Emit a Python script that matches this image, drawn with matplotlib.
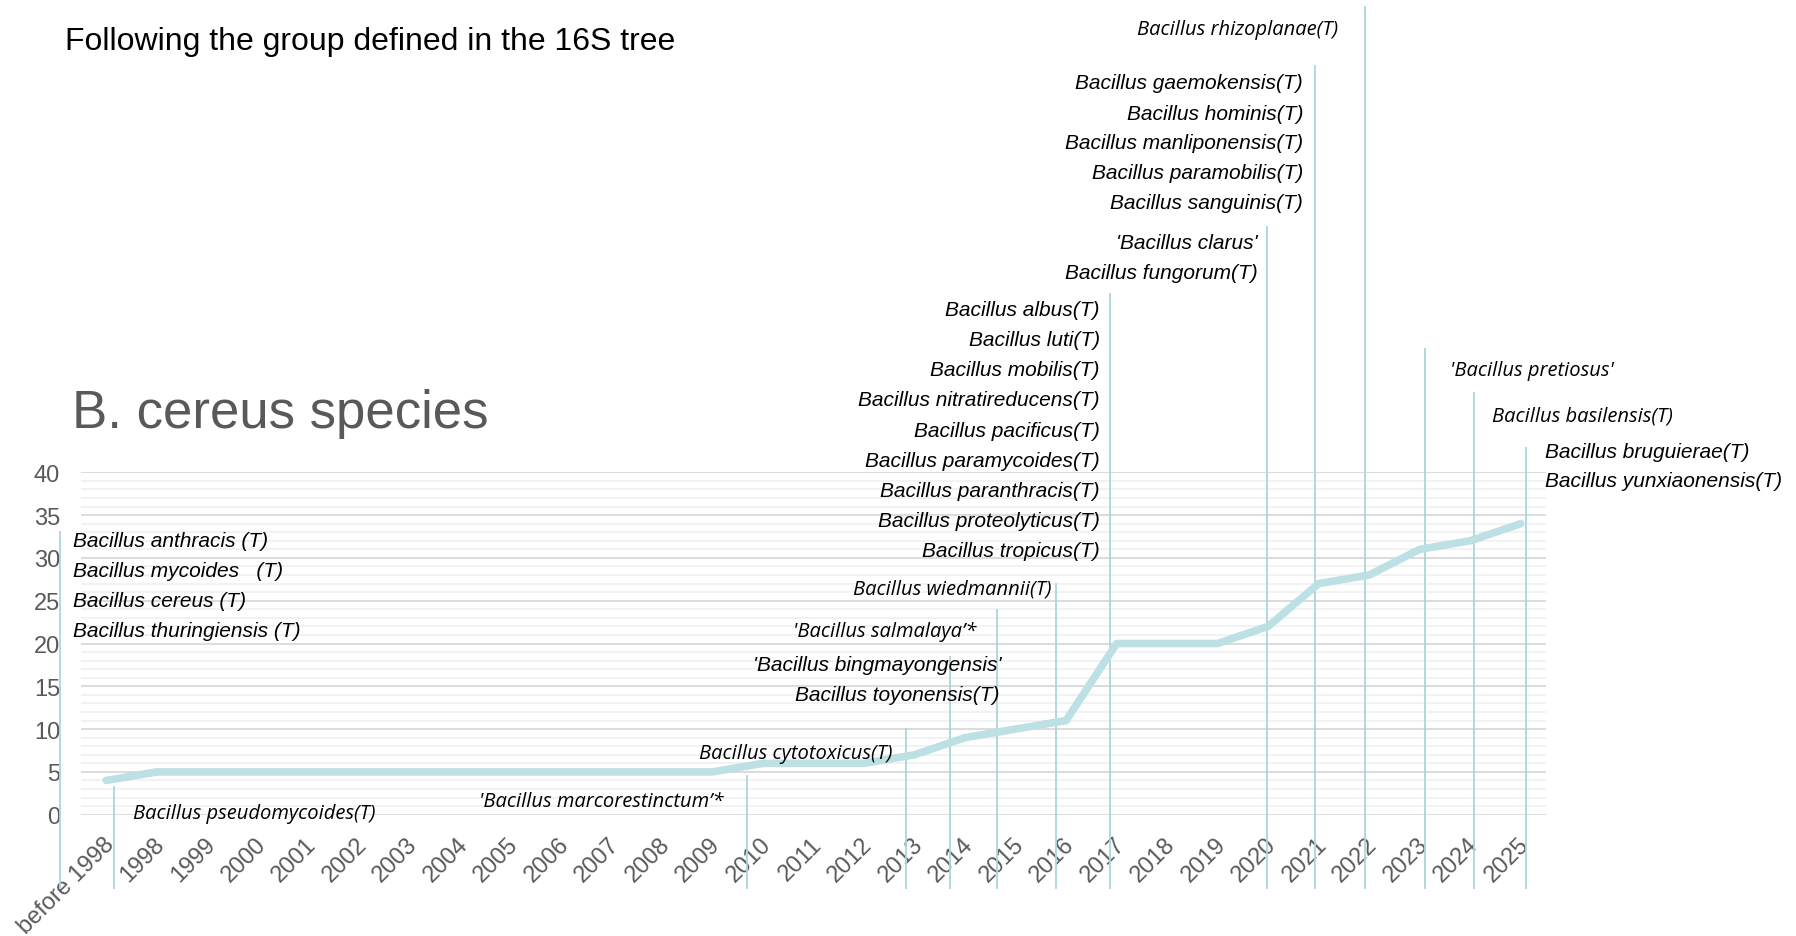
import matplotlib
matplotlib.use("Agg")
import matplotlib.pyplot as plt
import matplotlib.transforms as mtransforms
import numpy as np

W, H = 1796, 937

C_LINE = "#BDE0E4"
C_MARK = "#A9D6DB"
C_TICK = "#595959"
SANS = "Liberation Sans"
SOFT = "Open Sans"

YEARS = ["before 1998", "1998", "1999", "2000", "2001", "2002", "2003", "2004",
         "2005", "2006", "2007", "2008", "2009", "2010", "2011", "2012", "2013",
         "2014", "2015", "2016", "2017", "2018", "2019", "2020", "2021", "2022",
         "2023", "2024", "2025"]
COUNTS = [4, 5, 5, 5, 5, 5, 5, 5, 5, 5, 5, 5, 5, 6, 6, 6, 7, 9, 10, 11,
          20, 20, 20, 22, 27, 28, 31, 32, 34]

# marker lines: x in category units, top in data units
MARK_X   = [-0.92, 0.15, 12.68, 15.83, 16.70, 17.63, 18.80, 19.87, 22.98, 23.93, 24.92, 26.11, 27.08, 28.11]
MARK_TOP = [33.0, 3.2, 4.5, 10.0, 18.4, 23.9, 27.0, 60.8, 68.7, 87.5, 94.4, 54.4, 49.3, 42.8]
MARK_BOTTOM = -8.6

# species labels: (text, x, y, ha, font)
LABELS = [
    ("Bacillus anthracis (T)",        -0.66, 32.0, "left",  SANS),
    ("Bacillus mycoides   (T)",       -0.66, 28.5, "left",  SANS),
    ("Bacillus cereus (T)",           -0.66, 25.0, "left",  SANS),
    ("Bacillus thuringiensis (T)",    -0.66, 21.5, "left",  SANS),
    ("Bacillus pseudomycoides(T)",     0.53,  0.2, "left",  SOFT),
    ("'Bacillus marcorestinctum\u2019*", 7.38, 1.6, "left", SOFT),
    ("Bacillus cytotoxicus(T)",       15.57,  7.2, "right", SOFT),
    ("'Bacillus salmalaya\u2019*",    17.22, 21.5, "right", SOFT),
    ("'Bacillus bingmayongensis'",    17.73, 17.6, "right", SANS),
    ("Bacillus toyonensis(T)",        17.69, 14.1, "right", SANS),
    ("Bacillus wiedmannii(T)",        18.72, 26.4, "right", SOFT),
    ("Bacillus albus(T)",             19.67, 59.0, "right", SANS),
    ("Bacillus luti(T)",              19.67, 55.5, "right", SANS),
    ("Bacillus mobilis(T)",           19.67, 52.0, "right", SANS),
    ("Bacillus nitratireducens(T)",   19.67, 48.5, "right", SANS),
    ("Bacillus pacificus(T)",         19.67, 44.9, "right", SANS),
    ("Bacillus paramycoides(T)",      19.67, 41.4, "right", SANS),
    ("Bacillus paranthracis(T)",      19.67, 37.9, "right", SANS),
    ("Bacillus proteolyticus(T)",     19.67, 34.4, "right", SANS),
    ("Bacillus tropicus(T)",          19.67, 30.9, "right", SANS),
    ("'Bacillus clarus'",             22.80, 66.9, "right", SANS),
    ("Bacillus fungorum(T)",          22.80, 63.3, "right", SANS),
    ("Bacillus gaemokensis(T)",       23.69, 85.5, "right", SANS),
    ("Bacillus hominis(T)",           23.69, 81.9, "right", SANS),
    ("Bacillus manliponensis(T)",     23.69, 78.5, "right", SANS),
    ("Bacillus paramobilis(T)",       23.69, 75.0, "right", SANS),
    ("Bacillus sanguinis(T)",         23.69, 71.5, "right", SANS),
    ("Bacillus rhizoplanae(T)",       24.38, 91.8, "right", SOFT),
    ("'Bacillus pretiosus'",          26.60, 52.0, "left",  SOFT),
    ("Bacillus basilensis(T)",        27.43, 46.6, "left",  SOFT),
    ("Bacillus bruguierae(T)",        28.48, 42.4, "left",  SANS),
    ("Bacillus yunxiaonensis(T)",     28.48, 39.0, "left",  SANS),
]

fig = plt.figure(figsize=(W / 100, H / 100), dpi=100, facecolor="white")
ax = fig.add_axes([81 / W, 1 - 815.7 / H, 1465 / W, 342.4 / H])

x = np.arange(len(YEARS))
ax.set_xlim(-0.5, len(YEARS) - 0.5)
ax.set_ylim(0, 40)
ax.set_yticks(np.arange(0, 41, 5))
ax.set_yticks(np.arange(0, 41, 1), minor=True)
ax.grid(axis="y", which="minor", color="#EFEFEF", lw=1.1)
ax.grid(axis="y", which="major", color="#D6D6D6", lw=1.2)
ax.set_axisbelow(True)
for s in ax.spines.values():
    s.set_visible(False)

ax.tick_params(which="both", length=0)
ax.tick_params(axis="y", pad=15, labelsize=17, labelcolor=C_TICK)
ax.tick_params(axis="x", pad=13)
ax.set_xticks(x)
ax.set_xticklabels(YEARS, rotation=45, ha="right", va="top", rotation_mode="anchor",
                   fontsize=17, color=C_TICK, family=SANS)
shift = mtransforms.ScaledTranslation(-3 / 100, 0, fig.dpi_scale_trans)
for lbl in ax.get_xticklabels():
    lbl.set_transform(lbl.get_transform() + shift)
for lbl in ax.get_yticklabels():
    lbl.set_family(SANS)

for mx, top in zip(MARK_X, MARK_TOP):
    ax.plot([mx, mx], [MARK_BOTTOM, top], color=C_MARK, lw=1.3, clip_on=False, zorder=2)

ax.plot(x, COUNTS, color=C_LINE, lw=5.5, solid_capstyle="round", zorder=3)

for txt, tx, ty, ha, fam in LABELS:
    size = 15 if fam == SANS else 14.5
    ax.text(tx, ty, txt, ha=ha, va="center", fontsize=size, style="italic",
            family=fam, color="black", clip_on=False, zorder=4)

fig.text(65 / W, 1 - 50 / H, "Following the group defined in the 16S tree",
         fontsize=23, family=SANS, color="black", va="baseline")
fig.text(72 / W, 1 - 428 / H, "B. cereus species",
         fontsize=38, family=SANS, color=C_TICK, va="baseline")

fig.savefig("out.png", dpi=100, facecolor="white")
